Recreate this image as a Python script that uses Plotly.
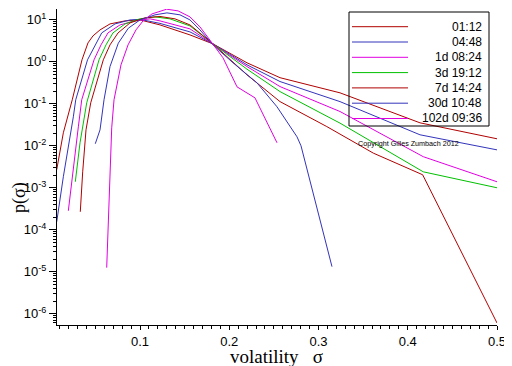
import plotly.graph_objects as go

names = ["01:12", "04:48", "1d 08:24", "3d 19:12", "7d 14:24", "30d 10:48", "102d 09:36"]
colors = ["#b00000", "#3333bb", "#e000e0", "#00c000", "#b00000", "#3333bb", "#e000e0"]

x_0112 = [0.0067, 0.0141, 0.0241, 0.035, 0.0417, 0.0473, 0.0552, 0.0664, 0.0832, 0.1,
          0.1224, 0.156, 0.1818, 0.2199, 0.2569, 0.3241, 0.4137, 0.5]
y_0112 = [2.7e-3, 0.0204, 0.125, 1.12, 2.83, 4.16, 5.78, 8.03, 9.47, 10.0,
          7.6, 4.39, 2.68, 0.95, 0.42, 0.183, 0.0353, 0.0147]

x_0448 = [0.0067, 0.0141, 0.0253, 0.028, 0.0412, 0.0496, 0.0571, 0.072, 0.0888, 0.1,
          0.1224, 0.156, 0.1818, 0.2199, 0.2569, 0.3241, 0.4137, 0.5]
y_0448 = [1.55e-4, 1.83e-3, 0.049, 0.125, 1.12, 2.54, 4.9, 8.03, 10.0, 10.3,
          8.26, 5.18, 2.68, 0.85, 0.34, 0.113, 0.0183, 8.0e-3]

x_1d = [0.0197, 0.0253, 0.0309, 0.0347, 0.0485, 0.0563, 0.0641, 0.0776, 0.0944, 0.1112,
        0.1224, 0.156, 0.1818, 0.2199, 0.2569, 0.3241, 0.4174, 0.5]
y_1d = [2.83e-4, 3.16e-3, 0.0283, 0.125, 1.12, 2.54, 4.9, 7.6, 9.47, 10.6,
        9.47, 6.11, 2.68, 0.773, 0.258, 0.0656, 5.5e-3, 1.39e-3]

x_3d = [0.0275, 0.0328, 0.0403, 0.0541, 0.0619, 0.0697, 0.0832, 0.1, 0.1168, 0.1336,
        0.156, 0.1818, 0.2199, 0.2569, 0.3241, 0.4174, 0.5]
y_3d = [1.39e-3, 0.0118, 0.106, 1.12, 2.54, 4.9, 8.03, 10.6, 11.8, 10.6,
        7.2, 2.68, 0.67, 0.196, 0.0347, 2.4e-3, 1.0e-3]

x_7d = [0.0331, 0.0358, 0.0395, 0.0448, 0.0589, 0.0664, 0.0754, 0.0888, 0.1056, 0.1224,
        0.1392, 0.156, 0.1818, 0.2199, 0.2569, 0.3092, 0.3614, 0.4167, 0.5]
y_7d = [2.68e-4, 2.4e-3, 0.024, 0.106, 1.12, 2.54, 4.9, 8.48, 11.2, 12.1,
        10.6, 7.6, 2.68, 0.49, 0.113, 0.0288, 6.7e-3, 2.04e-3, 6.0e-7]

x_30d = [0.0499, 0.0552, 0.0597, 0.0664, 0.0757, 0.0869, 0.1, 0.1168, 0.1302, 0.1448,
         0.156, 0.1672, 0.1818, 0.2042, 0.2311, 0.2535, 0.2759, 0.2804, 0.3151]
y_30d = [0.0112, 0.024, 0.125, 0.773, 2.79, 6.34, 10.0, 13.2, 14.7, 13.2,
         10.0, 5.78, 2.54, 0.95, 0.316, 0.085, 0.0164, 0.01, 1.32e-5]

x_102d = [0.0627, 0.0645, 0.0664, 0.0683, 0.0709, 0.0787, 0.0866, 0.0955, 0.1034, 0.1134,
          0.1299, 0.1426, 0.156, 0.1672, 0.1807, 0.193, 0.2087, 0.2288, 0.2535]
y_102d = [1.25e-5, 1.47e-4, 4.2e-3, 0.0268, 0.125, 0.85, 2.54, 5.78, 9.47, 13.9,
          18.0, 16.4, 11.8, 6.81, 2.83, 1.25, 0.254, 0.139, 0.0118]

xs = [x_0112, x_0448, x_1d, x_3d, x_7d, x_30d, x_102d]
ys = [y_0112, y_0448, y_1d, y_3d, y_7d, y_30d, y_102d]

x_ticks = [0.1, 0.2, 0.3, 0.4, 0.5]
y_exponents = [-6, -5, -4, -3, -2, -1, 0, 1]

fig = go.Figure()
for name, c, xv, yv in zip(names, colors, xs, ys):
    fig.add_trace(go.Scatter(x=xv, y=yv, mode="lines", name=name,
                             line=dict(color=c, width=1), showlegend=False))

# page body has an 8px default margin: the figure is drawn 8px right and down
BODY = 8
W, H = 512 - BODY, 366 - BODY
# plot area in reference (window) pixels
PX0, PX1, PY0, PY1 = 57, 497, 9, 325
ml, mr, mt, mb = PX0 - BODY, 512 - PX1, PY0 - BODY, 366 - PY1
pw, ph = PX1 - PX0, PY1 - PY0

def px2paper_x(px):
    return (px - PX0) / pw

def py2paper_y(py):
    return (PY1 - py) / ph

shapes = [dict(type="rect", xref="paper", yref="paper",
               x0=px2paper_x(349), x1=px2paper_x(489),
               y0=py2paper_y(126), y1=py2paper_y(12),
               line=dict(color="black", width=1), layer="above")]
annotations = []
for i, (name, c) in enumerate(zip(names, colors)):
    py = 26.7 + 15.3 * i
    shapes.append(dict(type="line", xref="paper", yref="paper",
                       x0=px2paper_x(352), x1=px2paper_x(408),
                       y0=py2paper_y(py), y1=py2paper_y(py),
                       line=dict(color=c, width=1)))
    annotations.append(dict(text=name, xref="paper", yref="paper",
                            x=px2paper_x(484), y=py2paper_y(py),
                            xanchor="right", yanchor="middle", showarrow=False,
                            font=dict(family="Liberation Sans, Arial", size=12, color="black")))

annotations.append(dict(text="Copyright Gilles Zumbach 2012", xref="paper", yref="paper",
                        x=px2paper_x(408), y=py2paper_y(143), xanchor="center", yanchor="middle",
                        showarrow=False,
                        font=dict(family="Liberation Sans, Arial", size=7.2, color="black")))
annotations.append(dict(text="volatility\u00a0\u00a0\u00a0σ", xref="paper", yref="paper",
                        x=px2paper_x(276), y=py2paper_y(356), xanchor="center", yanchor="middle",
                        showarrow=False, borderpad=0,
                        font=dict(family="Liberation Serif, Times New Roman", size=19, color="black")))
annotations.append(dict(text="p(σ)", xref="paper", yref="paper",
                        x=px2paper_x(19), y=py2paper_y(198), xanchor="center", yanchor="middle",
                        showarrow=False, textangle=-90, borderpad=0,
                        font=dict(family="Liberation Serif, Times New Roman", size=18, color="black")))

fig.update_layout(
    width=W, height=H,
    margin=dict(l=ml, r=mr, t=mt, b=mb, pad=0, autoexpand=False),
    paper_bgcolor="white", plot_bgcolor="white",
    showlegend=False,
    shapes=shapes, annotations=annotations,
    xaxis=dict(range=[0.007, 0.5], tickmode="array", tickvals=x_ticks,
               ticktext=[str(v) for v in x_ticks], automargin=False,
               ticks="outside", ticklen=4, tickcolor="black",
               showline=True, linecolor="black", linewidth=1,
               showgrid=False, zeroline=False,
               tickfont=dict(family="Liberation Sans, Arial", size=13, color="black"),
               minor=dict(ticks="outside", ticklen=3, tickcolor="black", dtick=0.01, tick0=0,
                          showgrid=False)),
    yaxis=dict(type="log", range=[-6.27, 1.26], tickmode="array",
               tickvals=[10.0 ** e for e in y_exponents],
               ticktext=[f"10<sup>{e}</sup>" for e in y_exponents], automargin=False,
               ticks="outside", ticklen=7, tickcolor="black",
               showline=True, linecolor="black", linewidth=1,
               showgrid=False, zeroline=False,
               tickfont=dict(family="Liberation Sans, Arial", size=13, color="black"),
               minor=dict(ticks="outside", ticklen=3, tickcolor="black", dtick="D1",
                          showgrid=False)),
)

fig.write_html("out.html")
